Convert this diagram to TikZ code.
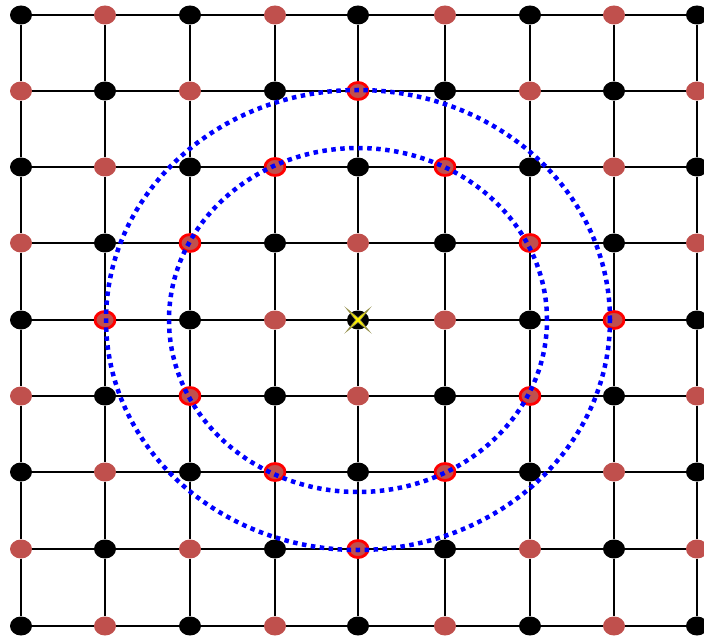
\documentclass[tikz,border=0pt]{standalone}
\usetikzlibrary{shapes.geometric}
\definecolor{dotred}{HTML}{C0504D}
\tikzset{
  gnode/.style={ellipse, minimum width=22pt, minimum height=19pt, inner sep=0pt},
  blk/.style={gnode, fill=black},
  rd/.style={gnode, fill=dotred},
  hl/.style={gnode, fill=dotred, draw=red, line width=2.8pt, minimum width=20pt, minimum height=17pt},
  gline/.style={line width=2pt},
  ring/.style={blue, line width=4.5pt, dash pattern=on 4.5pt off 4.5pt},
  centerstar/.style={star, star points=4, star point ratio=7, minimum size=32pt, inner sep=0pt,
     fill=yellow, draw=black!50!yellow, line width=0.7pt, rotate=45}
}
\begin{document}
\begin{tikzpicture}[x=1pt,y=-1pt]
\useasboundingbox (0,0) rectangle (704,639);
\foreach \i in {0,...,8}{
  \foreach \j in {0,...,8}{
    \pgfmathtruncatemacro\s{mod(\i+\j,2)}
    \pgfmathtruncatemacro\d{abs(\i-4)+abs(\j-4)}
    \pgfmathtruncatemacro\px{{21,105,190,275,358,445,530,614,697}[\i]}
    \pgfmathtruncatemacro\py{{15,91,167,243,320,396,472,549,626}[\j]}
    \ifnum\s=0
      \node[blk] (n-\i-\j) at (\px,\py) {};
    \else
      \ifnum\d=3
        \node[hl] (n-\i-\j) at (\px,\py) {};
      \else
        \node[rd] (n-\i-\j) at (\px,\py) {};
      \fi
    \fi
  }
}
\foreach \i [evaluate=\i as \k using int(\i+1)] in {0,...,7}{
  \foreach \j in {0,...,8}{
    \draw[gline] (n-\i-\j) -- (n-\k-\j);
    \draw[gline] (n-\j-\i) -- (n-\j-\k);
  }
}
\node[centerstar] (c) at (n-4-4) {};
\draw[ring] (n-4-4.center) ellipse [x radius=189pt, y radius=172pt];
\draw[ring] (n-4-4.center) ellipse [x radius=252pt, y radius=230pt];
\end{tikzpicture}
\end{document}
